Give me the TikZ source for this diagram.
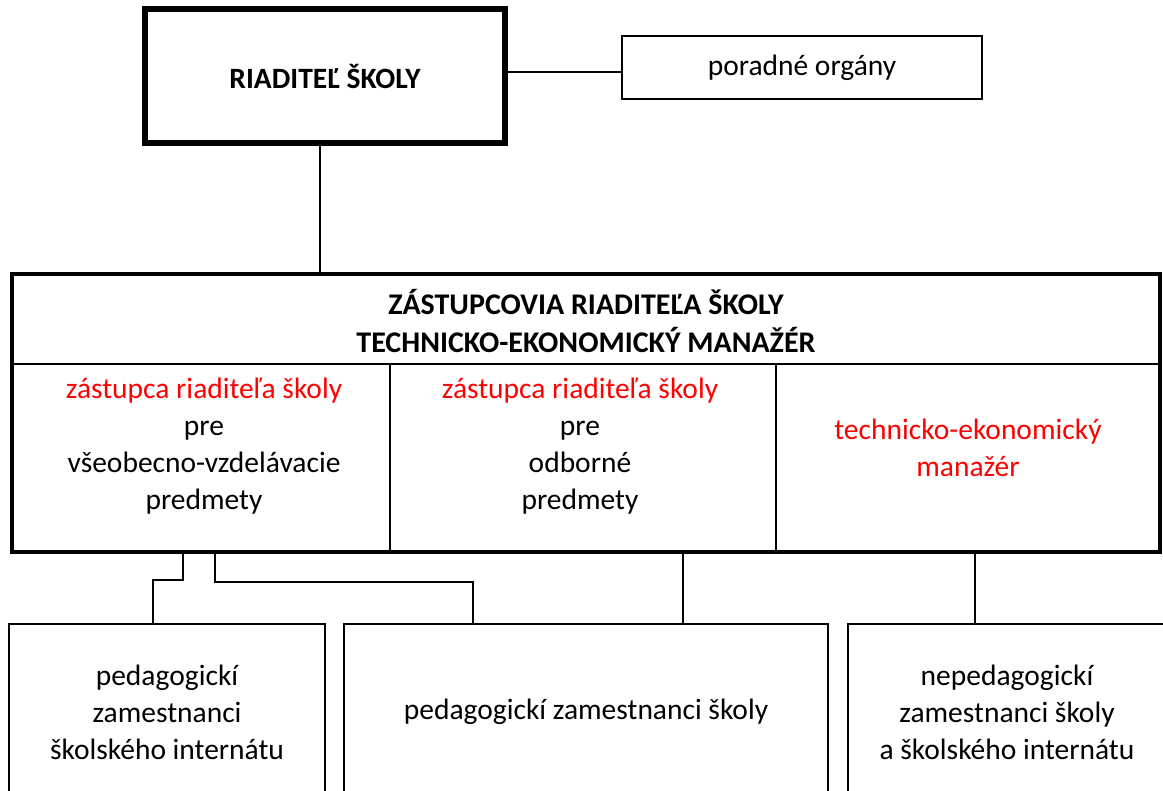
\documentclass[tikz,border=0pt]{standalone}
\usepackage{fontspec}
\setmainfont{Carlito}
\usepackage{xcolor}

\tikzset{
  box/.style={draw,line width=2pt,inner sep=0pt,align=center},
  headbox/.style={draw,line width=6pt,inner sep=0pt,align=center,
    font=\fontsize{29.5}{37}\selectfont\bfseries},
  bigbox/.style={draw,line width=4pt,inner sep=0pt},
  txt/.style={inner sep=0pt,align=center},
  link/.style={line width=2pt},
}

\begin{document}
\begin{tikzpicture}[x=1pt,y=-1pt,font=\fontsize{29.5}{37}\selectfont]
  \useasboundingbox (0,0) rectangle (1163,791);

  % top
  \node[headbox,minimum width=360pt,minimum height=134pt] (director) at (325,76) {RIADITEĽ ŠKOLY};
  \node[box,minimum width=360pt,minimum height=63pt] (advisory) at (802,67.5) {poradné orgány};
  \draw[link] ([yshift=-4.5pt]advisory.west) -- ([yshift=-4.5pt]advisory.west -| director.east);

  % deputies
  \node[bigbox,minimum width=1148pt,minimum height=278pt] (deputies) at (586,413) {};
  \draw[link] ([xshift=-5pt]director.south) -- ([xshift=-5pt]director.south |- deputies.north);
  \coordinate (hl) at (12,364);
  \coordinate (hr) at (1160,364);
  \draw[link] (hl) -- (hr);
  \foreach \x in {390,776}
    \draw[link] (\x,364) -- (\x,552);
  \node[txt,font=\fontsize{30}{38}\selectfont\bfseries] (header) at (586,321)
    {ZÁSTUPCOVIA RIADITEĽA ŠKOLY\\TECHNICKO-EKONOMICKÝ MANAŽÉR};
  \node[txt] (general) at (204,446)
    {\textcolor{red}{zástupca riaditeľa školy}\\pre\\všeobecno-vzdelávacie\\predmety};
  \node[txt] (vocational) at (580,446)
    {\textcolor{red}{zástupca riaditeľa školy}\\pre\\odborné\\predmety};
  \node[txt,text=red] (manager) at (968,448) {technicko-ekonomický\\manažér};

  % staff
  \node[box,minimum width=316pt,minimum height=176pt] (internat) at (167,712)
    {pedagogickí\\zamestnanci\\školského internátu};
  \node[box,minimum width=484pt,minimum height=176pt] (teachers) at (586,712)
    {pedagogickí zamestnanci školy};
  \node[box,minimum width=318pt,minimum height=176pt] (support) at (1007,712)
    {nepedagogickí\\zamestnanci školy\\a školského internátu};

  % links down
  \coordinate (d1) at (183,552);
  \coordinate (d2) at (215,552);
  \coordinate (d3) at (683,552);
  \coordinate (d4) at (975,552);
  \draw[link] (d1) -- ++(0,28) -| ([xshift=-14pt]internat.north);
  \draw[link] (d2) -- ++(0,30) -| ([xshift=-113pt]teachers.north);
  \draw[link] (d3) -- (d3 |- teachers.north);
  \draw[link] (d4) -- (d4 |- support.north);
\end{tikzpicture}
\end{document}
